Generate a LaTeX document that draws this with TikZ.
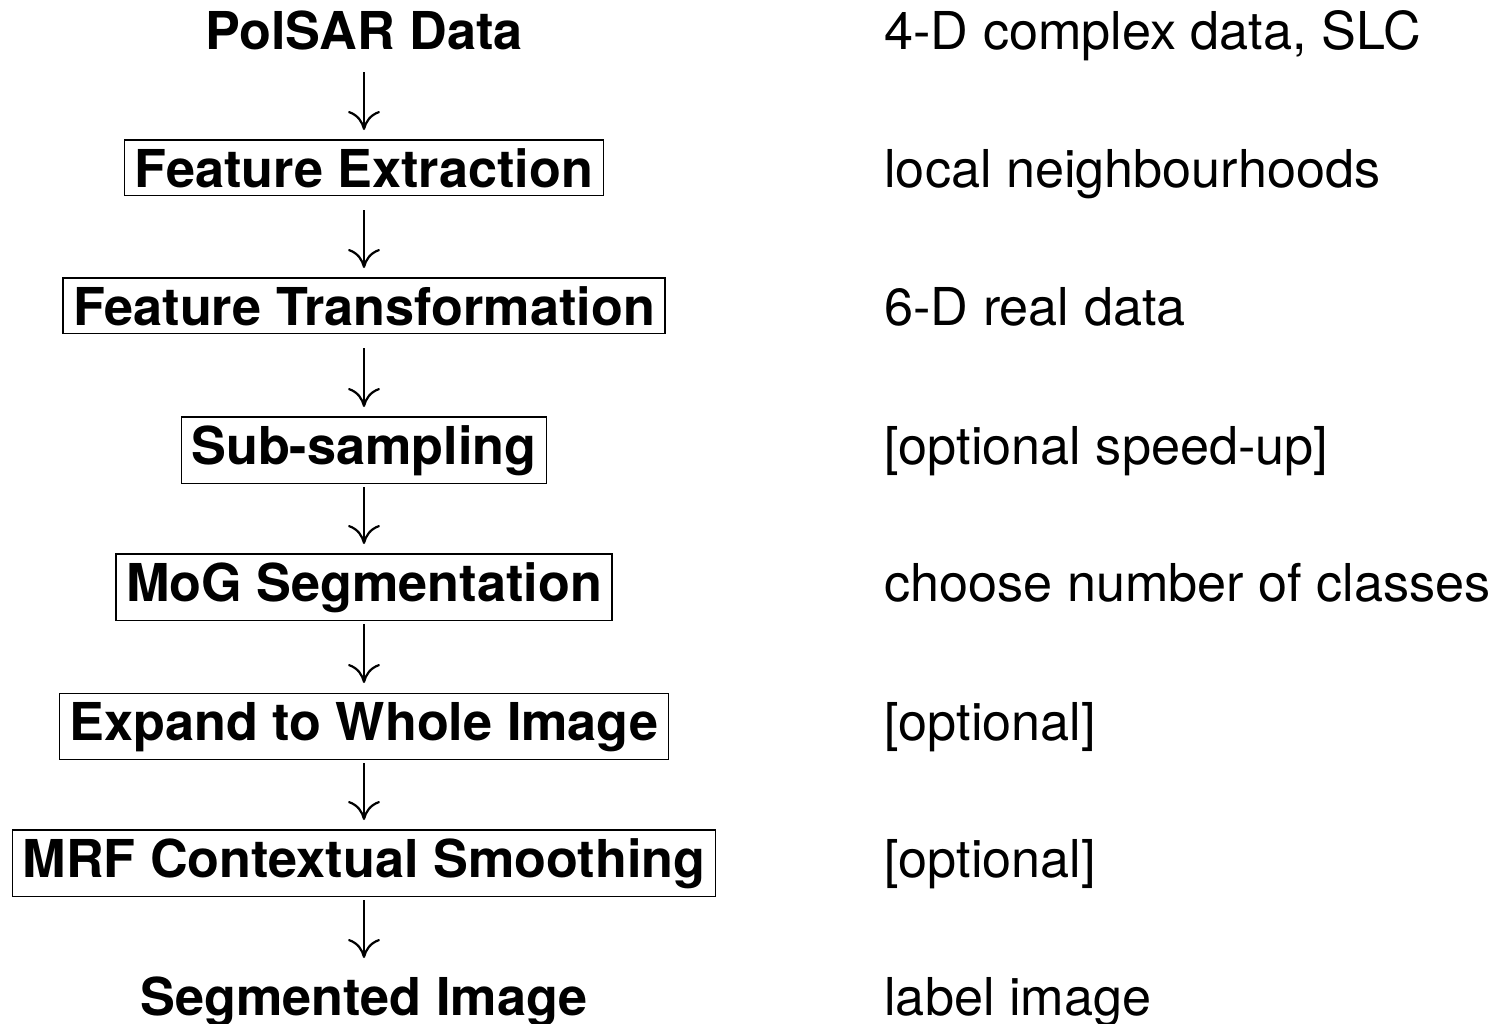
\documentclass[tikz,border=0pt]{standalone}
\usepackage{fontspec}
\setmainfont{TeX Gyre Heros}
\usetikzlibrary{arrows.meta}
\begin{document}
\begin{tikzpicture}[x=0.5pt,y=-0.5pt,
  stage/.style={draw, line width=0.65pt, font=\fontsize{26.1}{31}\selectfont\bfseries,
                inner xsep=5pt, inner ysep=4.1pt, anchor=base},
  io/.style={stage, draw=none},
  note/.style={font=\fontsize{26.1}{31}\selectfont, anchor=base west, inner sep=0pt},
  flow/.style={-{To[length=9.5pt,width=16pt]}, line width=1.1pt}]
\useasboundingbox (0,0) rectangle (1494,1023);
\node[io]    (s0) at (364,49)   {PolSAR Data};
\node[stage] (s1) at (364,187)  {Feature Extraction};
\node[stage] (s2) at (364,325)  {Feature Transformation};
\node[stage] (s3) at (364,464)  {Sub-sampling};
\node[stage] (s4) at (364,601)  {MoG Segmentation};
\node[stage] (s5) at (364,740)  {Expand to Whole Image};
\node[stage] (s6) at (364,877)  {MRF Contextual Smoothing};
\node[io]    (s7) at (364,1015) {Segmented Image};

\node[note] (n0) at (884,49)   {4-D complex data, SLC};
\node[note] (n1) at (884,187)  {local neighbourhoods};
\node[note] (n2) at (884,325)  {6-D real data};
\node[note] (n3) at (884,464)  {[optional speed-up]};
\node[note] (n4) at (884,601)  {choose number of classes};
\node[note] (n5) at (884,740)  {[optional]};
\node[note] (n6) at (884,877)  {[optional]};
\node[note] (n7) at (884,1015) {label image};

\foreach \a/\b in {s0/s1,s1/s2,s2/s3,s3/s4,s4/s5,s5/s6,s6/s7}
  \draw[flow] ([yshift=-11.5pt]\a.base) -- ([yshift=28.5pt]\b.base);
\end{tikzpicture}
\end{document}
